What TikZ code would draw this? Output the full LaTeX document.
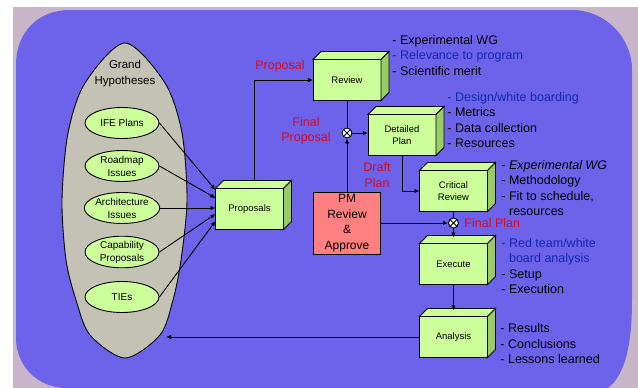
\documentclass[tikz,border=0pt]{standalone}
\usepackage{fontspec}
\setmainfont{Liberation Sans}
\usetikzlibrary{arrows.meta}
\usetikzlibrary{shapes.geometric}

\definecolor{bgmauve}{RGB}{200,182,200}
\definecolor{bgblue}{RGB}{108,99,234}
\definecolor{hypgray}{RGB}{196,193,181}
\definecolor{boxgreen}{RGB}{204,255,153}
\definecolor{boxside}{RGB}{153,204,102}
\definecolor{pmred}{RGB}{255,128,128}
\definecolor{lblred}{RGB}{215,10,35}
\definecolor{txtblue}{RGB}{20,40,175}

% top and side faces of a box node
\newcommand\cuboid[1]{%
  \filldraw[fill=boxgreen] (#1.north west) -- ([shift={(8,-8)}]#1.north west)
     -- ([shift={(8,-8)}]#1.north east) -- (#1.north east) -- cycle;
  \filldraw[fill=boxside] (#1.north east) -- ([shift={(8,-8)}]#1.north east)
     -- ([shift={(8,-8)}]#1.south east) -- (#1.south east) -- cycle;
}

\tikzset{
  box/.style={draw, fill=boxgreen, minimum width=68pt, minimum height=41pt,
    inner sep=1pt, outer sep=0pt, align=center, font=\fontsize{9.5}{12}\selectfont},
  hyp/.style={ellipse, draw, fill=boxgreen, minimum width=74pt, minimum height=31pt,
    inner sep=0pt, align=center, font=\fontsize{10}{13}\selectfont},
  pmbox/.style={draw, fill=pmred, minimum width=67pt, minimum height=62pt,
    inner sep=1pt, outer sep=0pt, align=center, font=\fontsize{12}{15.5}\selectfont},
  note/.style={anchor=west, align=left, inner sep=0pt, font=\fontsize{12.5}{15.5}\selectfont},
  redlbl/.style={text=lblred, align=center, inner sep=0pt, font=\fontsize{12.5}{15.5}\selectfont},
  junct/.style={circle, draw, fill=white, minimum size=10pt, inner sep=0pt},
  arr/.style={-{Latex[length=5pt,width=4.5pt]}},
}

\begin{document}
\begin{tikzpicture}[x=1pt,y=-1pt,line width=0.9pt]
    \useasboundingbox (0,0) rectangle (638,388);
    \fill[white] (0,0) rectangle (638,388);
    \fill[bgmauve] (13,7) rectangle (638,388);
    \fill[bgblue] (66,388) .. controls (38,388) and (16,366) .. (16,338) -- (16,65)
       .. controls (16,32) and (38,10) .. (70,10) -- (572,10)
       .. controls (605,10) and (632,37) .. (632,70) -- (632,300)
       .. controls (632,345) and (625,375) .. (608,388) -- cycle;

    % grand hypotheses
    \draw[fill=hypgray] plot[smooth cycle] coordinates {(125,43) (165,83) (182,133)
       (187,200) (181,260) (173,300) (160,335) (125,358) (90,335) (76,300) (66,260)
       (62,200) (68,133) (85,83)};
    \node[align=center, font=\fontsize{11.5}{16}\selectfont] (ghlbl) at (125,74) {Grand\\Hypotheses};
    \coordinate (ghtip) at (166,337);

    \foreach \y/\t/\k in {123/IFE Plans/1,166/Roadmap\\Issues/2,208/Architecture\\Issues/3,
       252/Capability\\Proposals/4,297/TIEs/5}
        \node[hyp] (h\k) at (122,\y) {\t};

    \foreach \x/\y/\t/\n in {249.5/209/Proposals/prop,347/80/Review/rev,402/135/Detailed\\Plan/det,
       453.5/191/Critical\\Review/crit,453.5/264/Execute/exe,453.5/337/Analysis/ana} {
        \node[box] (\n) at (\x,\y) {\t};
        \cuboid{\n}
    }
    \node[pmbox] (pm) at (347,223) {PM\\Review\\\&\\Approve};

    \node[junct] (j1) at (347,133) {};
    \node[junct] (j2) at (453.5,223) {};
    \foreach \j in {j1,j2}
      \draw (\j.45) -- (\j.225) (\j.135) -- (\j.315);

    \foreach \k/\s in {1/19,2/11,3/1,4/-5,5/-12}
      \draw[arr] (h\k.east) -- ([yshift=\s pt]prop.west);

    \draw[arr] ([shift={(4.5,-8)}]prop.north) |- (rev.west);
    \draw (rev.south) -- (j1);
    \draw[arr] (pm) -- (j1);
    \draw[arr] (j1) -- (j1 -| det.west);
    \draw[arr] (det.south) |- (crit.west);
    \draw (crit.south) -- (j2);
    \draw[arr] (pm.east |- j2) -- (j2);
    \draw[arr] (j2) -- ([shift={(0,-6)}]exe.north);
    \draw[arr] (exe.south) -- ([shift={(0,-6)}]ana.north);
    \draw[arr] (ana.west) -- (ghtip);

    \node[redlbl] (lprop) at (280,66) {Proposal};
    \node[redlbl] (lfinal) at (306,131) {Final\\Proposal};
    \node[redlbl] (ldraft) at (377,175) {Draft\\Plan};
    \node[redlbl,anchor=west] (lfplan) at (464,223) {Final Plan};

    \node[note] (nrev) at (392,55.5) {- Experimental WG\\\textcolor{txtblue}{- Relevance to program}\\- Scientific merit};
    \node[note] (ndet) at (447,120) {\textcolor{txtblue}{- Design/white boarding}\\- Metrics\\- Data collection\\- Resources};
    \node[note] (ncrit) at (501,188) {- \textit{Experimental WG}\\- Methodology\\- Fit to schedule,\\\phantom{- }resources};
    \node[note] (nexe) at (501,266) {\textcolor{txtblue}{- Red team/white}\\\textcolor{txtblue}{\phantom{- }board analysis}\\- Setup\\- Execution};
    \node[note] (nana) at (500,344) {- Results\\- Conclusions\\- Lessons learned};
\end{tikzpicture}
\end{document}
